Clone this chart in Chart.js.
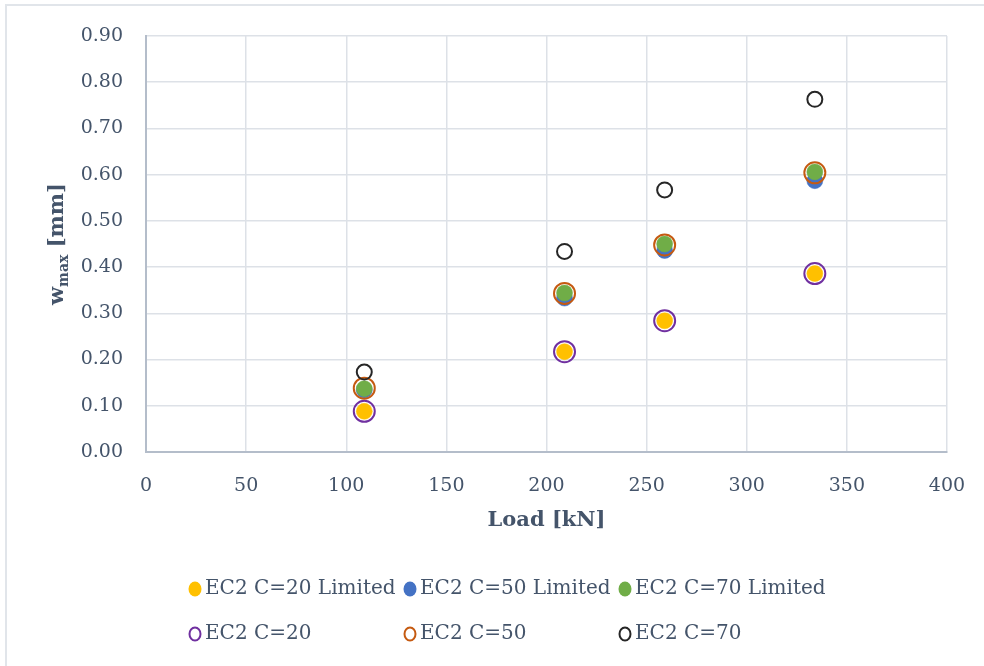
<!DOCTYPE html>
<html>
<head>
<meta charset="utf-8">
<script src="https://cdn.jsdelivr.net/npm/chart.js@4/dist/chart.umd.min.js"></script>
<style>
  html, body { margin: 0; padding: 0; background: #ffffff; }
  #wrap { width: 984px; height: 666px; position: relative; }
</style>
</head>
<body>
<div id="wrap"><canvas id="c" width="984" height="666"></canvas></div>
<script>
// Load levels [kN]
const loads = [109, 209, 259, 334];

// Maximum crack width w_max [mm] per series
const ec2C20Limited = [0.088, 0.217, 0.284, 0.386];
const ec2C50Limited = [0.134, 0.333, 0.436, 0.587];
const ec2C70Limited = [0.137, 0.344, 0.450, 0.606];
const ec2C20 = [0.088, 0.217, 0.284, 0.386];
const ec2C50 = [0.138, 0.343, 0.448, 0.604];
const ec2C70 = [0.173, 0.434, 0.567, 0.763];

const seriesNames = [
  'EC2 C=20 Limited', 'EC2 C=50 Limited', 'EC2 C=70 Limited',
  'EC2 C=20', 'EC2 C=50', 'EC2 C=70'
];

const xTickValues = [0, 50, 100, 150, 200, 250, 300, 350, 400];
const yTickValues = [0, 0.1, 0.2, 0.3, 0.4, 0.5, 0.6, 0.7, 0.8, 0.9];

const TEXT = '#44546a';
const FONT = '"DejaVu Serif", "Liberation Serif", serif';

function pts(vals) { return vals.map((v, i) => ({ x: loads[i], y: v })); }

function filled(label, vals, color, idx) {
  return {
    label, data: pts(vals), showLine: false,
    pointStyle: 'circle', pointRadius: 8, pointHoverRadius: 8,
    pointBackgroundColor: color, pointBorderColor: color, pointBorderWidth: 0.5,
    backgroundColor: color, borderColor: color, order: 10 - idx,
    legendFilled: true
  };
}
function ring(label, vals, color, r, idx) {
  return {
    label, data: pts(vals), showLine: false,
    pointStyle: 'circle', pointRadius: r, pointHoverRadius: r,
    pointBackgroundColor: 'rgba(0,0,0,0)', pointBorderColor: color, pointBorderWidth: 2,
    backgroundColor: 'rgba(0,0,0,0)', borderColor: color, order: 10 - idx,
    legendFilled: false
  };
}

const datasets = [
  filled(seriesNames[0], ec2C20Limited, '#FFC000', 0),
  filled(seriesNames[1], ec2C50Limited, '#4472C4', 1),
  filled(seriesNames[2], ec2C70Limited, '#70AD47', 2),
  ring(seriesNames[3], ec2C20, '#7030A0', 10.5, 3),
  ring(seriesNames[4], ec2C50, '#C55A11', 10.5, 4),
  ring(seriesNames[5], ec2C70, '#262626', 7.5, 5)
];

// Frame, axis titles (y with subscript) and a 3-column legend grid
const decorations = {
  id: 'decorations',
  beforeDraw(chart) {
    const ctx = chart.ctx;
    ctx.save();
    ctx.fillStyle = '#ffffff';
    ctx.fillRect(0, 0, chart.width, chart.height);
    ctx.strokeStyle = '#e1e5ea';
    ctx.lineWidth = 2;
    ctx.beginPath();
    ctx.moveTo(6, chart.height);
    ctx.lineTo(6, 5);
    ctx.lineTo(chart.width, 5);
    ctx.stroke();
    ctx.restore();
  },
  afterDraw(chart) {
    const ctx = chart.ctx;
    const area = chart.chartArea;

    // x-axis title
    ctx.save();
    ctx.fillStyle = TEXT;
    ctx.font = 'bold 21px ' + FONT;
    ctx.textAlign = 'center';
    ctx.textBaseline = 'middle';
    ctx.fillText('Load [kN]', (area.left + area.right) / 2, 521);
    ctx.restore();

    // y-axis title: w_max [mm]
    ctx.save();
    const cy = (area.top + area.bottom) / 2;
    ctx.translate(58, cy);
    ctx.rotate(-Math.PI / 2);
    ctx.fillStyle = TEXT;
    ctx.textBaseline = 'middle';
    const big = 'bold 21px ' + FONT;
    const small = 'bold 14px ' + FONT;
    ctx.font = big; const wW = ctx.measureText('w').width;
    ctx.font = small; const wSub = ctx.measureText('max').width;
    ctx.font = big; const wRest = ctx.measureText(' [mm]').width;
    let x0 = -(wW + wSub + wRest) / 2;
    ctx.font = big; ctx.fillText('w', x0, 0); x0 += wW;
    ctx.font = small; ctx.fillText('max', x0, 6); x0 += wSub;
    ctx.font = big; ctx.fillText(' [mm]', x0, 0);
    ctx.restore();

    // legend grid
    ctx.save();
    const colX = [195, 410, 625];
    const rowY = [589, 634];
    ctx.font = '20px ' + FONT;
    ctx.textBaseline = 'middle';
    chart.data.datasets.forEach((ds, i) => {
      const cx = colX[i % 3];
      const ry = rowY[Math.floor(i / 3)];
      ctx.beginPath();
      if (ds.legendFilled) {
        ctx.ellipse(cx, ry, 6.5, 7.5, 0, 0, Math.PI * 2);
        ctx.fillStyle = ds.pointBackgroundColor;
        ctx.fill();
      } else {
        ctx.ellipse(cx, ry, 5.5, 6.5, 0, 0, Math.PI * 2);
        ctx.strokeStyle = ds.pointBorderColor;
        ctx.lineWidth = 2;
        ctx.stroke();
      }
      ctx.fillStyle = TEXT;
      ctx.fillText(ds.label, cx + 10, ry);
    });
    ctx.restore();
  }
};

new Chart(document.getElementById('c'), {
  type: 'scatter',
  data: { datasets },
  options: {
    responsive: false,
    animation: false,
    devicePixelRatio: 1,
    layout: { padding: { left: 0, top: 36, right: 37, bottom: 0 } },
    plugins: {
      legend: { display: false },
      tooltip: { enabled: false },
      title: { display: false }
    },
    scales: {
      x: {
        type: 'linear',
        min: 0, max: 400,
        afterBuildTicks(scale) { scale.ticks = xTickValues.map(v => ({ value: v })); },
        afterFit(scale) {
          scale.height = 214;
          scale.paddingLeft = 0;
          scale.paddingRight = 0;
        },
        grid: { color: '#dde1e7', lineWidth: 1.5, drawTicks: false },
        border: { color: '#b4bdca', width: 2 },
        ticks: {
          color: TEXT, padding: 23,
          font: { family: FONT, size: 19 },
          callback: v => String(v)
        },
        title: { display: false }
      },
      y: {
        type: 'linear',
        min: 0, max: 0.9,
        afterBuildTicks(scale) { scale.ticks = yTickValues.map(v => ({ value: v })); },
        afterFit(scale) {
          scale.width = 146;
          scale.paddingTop = 0;
          scale.paddingBottom = 0;
        },
        grid: { color: '#dde1e7', lineWidth: 1.5, drawTicks: false },
        border: { color: '#b4bdca', width: 2 },
        ticks: {
          color: TEXT, padding: 23,
          font: { family: FONT, size: 19 },
          callback: v => Number(v).toFixed(2)
        }
      }
    }
  },
  plugins: [decorations]
});
</script>
</body>
</html>
